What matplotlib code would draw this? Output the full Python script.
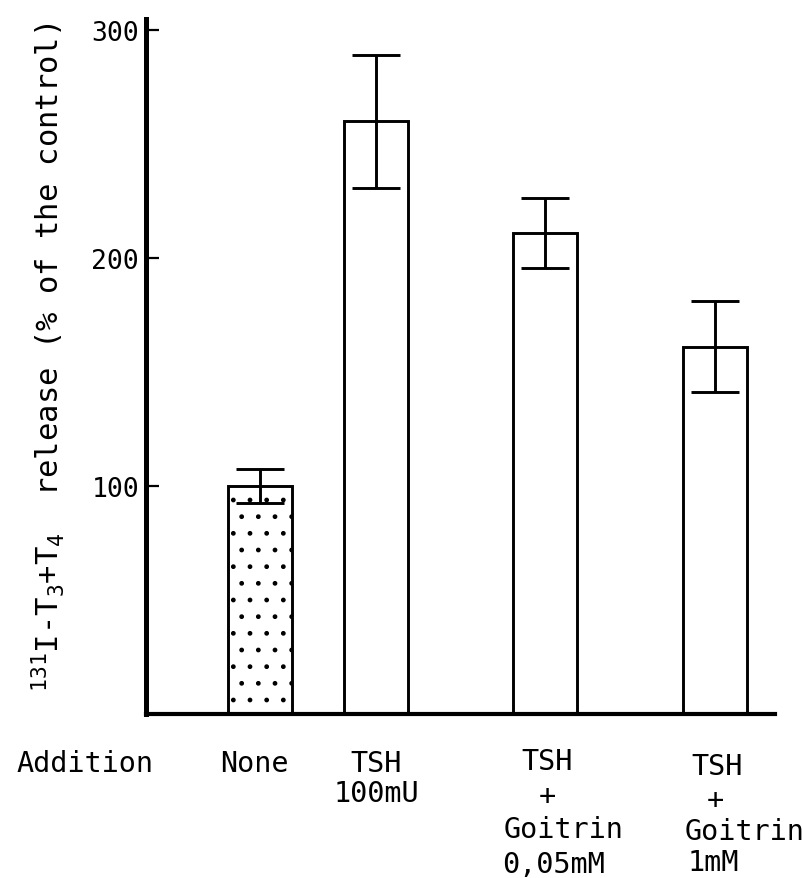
#!/usr/bin/env python3
"""Iodothyronine release bar chart: TSH and goitrin additions."""

import matplotlib

matplotlib.use("Agg")
import matplotlib.pyplot as plt
import numpy as np

# data
categories = ["None", "TSH 100mU", "TSH + Goitrin 0.05mM", "TSH + Goitrin 1mM"]
label_lines = [
    ["None"],
    ["TSH", "100mU"],
    ["TSH", "+", "Goitrin", "0,05mM"],
    ["TSH", "+", "Goitrin", "1mM"],
]
release_pct = [100, 260, 211, 161]
release_err = [7.5, 29, 15.5, 20]
y_ticks = [100, 200, 300]

W, H = 803, 879
plt.rcParams["font.family"] = ["DejaVu Sans Mono", "DejaVu Sans"]
plt.rcParams["mathtext.fontset"] = "custom"
plt.rcParams["mathtext.rm"] = "DejaVu Sans Mono"
plt.rcParams["mathtext.it"] = "DejaVu Sans Mono"
plt.rcParams["hatch.linewidth"] = 1.0

fig = plt.figure(figsize=(W / 100, H / 100), dpi=100)
ax = fig.add_axes([146 / W, (H - 714.5) / H, (775 - 146) / W, (714.5 - 20) / H])

# uneven gaps between the bar groups, as typed on the original
spacing = [1.0, 1.46, 1.46]
pos = np.concatenate([[0.0], np.cumsum(spacing)])

bars = ax.bar(pos, release_pct, width=0.55, color="white", edgecolor="black",
              linewidth=2.1, zorder=2)
bars[0].set_hatch(".")
ax.errorbar(pos, release_pct, yerr=release_err, fmt="none", ecolor="black",
            elinewidth=2.1, capsize=17, capthick=2.1, zorder=3)

ax.set_xlim(-0.983, 4.44)
ax.set_ylim(0, 305)
ax.set_yticks(y_ticks)
ax.set_yticklabels([str(t) for t in y_ticks], fontsize=19)
ax.set_xticks([])
ax.tick_params(axis="y", direction="in", length=9, width=1.6, pad=5)
for side in ("top", "right"):
    ax.spines[side].set_visible(False)
ax.spines["left"].set_linewidth(3.6)
ax.spines["bottom"].set_linewidth(3.0)

# per-line nudges (pixels) to follow the hand-typed label layout
nudges = [
    [(-6, -50)],
    [(0, -50), (0, -80)],
    [(2, -48), (2, -83), (18, -116), (8, -151)],
    [(2, -53), (1, -87), (30, -118), (-1, -149)],
]
for p, lines, offs in zip(pos, label_lines, nudges):
    for txt, (dx, dy) in zip(lines, offs):
        ax.annotate(txt, xy=(p, 0), xycoords="data", xytext=(dx, dy),
                    textcoords="offset pixels", ha="center", va="center",
                    fontsize=20.5, annotation_clip=False)

fig.text(85 / W, 1 - 764 / H, "Addition", ha="center", va="center", fontsize=20.5)
fig.text(48 / W, 1 - 357 / H,
         r"$^{131}$I-T$_3$+T$_4$  release (% of the control)",
         rotation=90, ha="center", va="center", fontsize=22)

fig.savefig("out.png", dpi=100)
